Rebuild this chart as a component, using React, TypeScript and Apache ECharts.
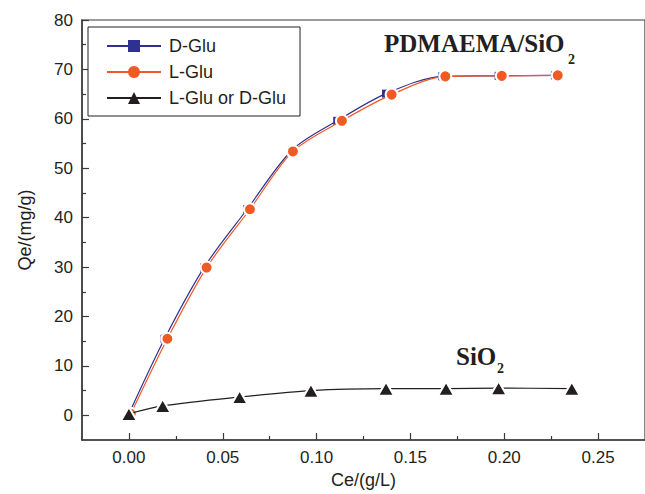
import React, { useEffect, useRef } from "react";
import * as echarts from "echarts";

const dGluX = [0, 0.019, 0.040, 0.063, 0.087, 0.111, 0.137, 0.167, 0.197, 0.227];
const dGluY = [0.3, 15.5, 29.9, 41.7, 53.7, 59.6, 65.1, 68.6, 68.7, 68.8];
const lGluX = [0.001, 0.0205, 0.0414, 0.0645, 0.0874, 0.1135, 0.140, 0.1686, 0.1987, 0.2285];
const lGluY = [0.3, 15.5, 29.9, 41.7, 53.4, 59.6, 64.9, 68.6, 68.7, 68.8];
const sio2X = [0, 0.018, 0.059, 0.097, 0.137, 0.169, 0.197, 0.236];
const sio2Y = [0.3, 1.9, 3.7, 5.0, 5.4, 5.4, 5.5, 5.4];

const xMajor = [0, 0.05, 0.1, 0.15, 0.2, 0.25];
const xMinor = [0.025, 0.075, 0.125, 0.175, 0.225];
const yMajor = [0, 10, 20, 30, 40, 50, 60, 70, 80];
const yMinor = [5, 15, 25, 35, 45, 55, 65, 75];

const seriesNames = ["D-Glu", "L-Glu", "L-Glu or D-Glu"];

const FONT = "'Liberation Sans', Arial, sans-serif";
const SERIF = "'Liberation Serif', 'Times New Roman', serif";
const AXIS = "#3a3a3a";

const zip = (xs: number[], ys: number[]) => xs.map((x, i) => [x, ys[i]]);

export default function App() {
  const ref = useRef<HTMLDivElement>(null);
  useEffect(() => {
    if (!ref.current) return;
    const chart = echarts.init(ref.current, undefined, { renderer: "svg" });
    const tickCommon = { inside: true, lineStyle: { color: AXIS, width: 1.2 } };
    chart.setOption({
      animation: false,
      backgroundColor: "#fff",
      grid: {
        left: 82, top: 20, width: 565, height: 420,
        show: true, borderColor: AXIS, borderWidth: 1.2,
      },
      legend: {
        data: seriesNames,
        orient: "vertical",
        left: 88, top: 27,
        padding: [10, 14, 9, 18],
        itemWidth: 54, itemHeight: 15, itemGap: 8,
        itemStyle: { borderWidth: 0 },
        borderColor: "#231f20", borderWidth: 1,
        backgroundColor: "#fff",
        textStyle: { fontFamily: FONT, fontSize: 18, color: "#231f20", lineHeight: 18, padding: [0, 0, 0, 3] },
      },
      xAxis: [
        {
          type: "value", min: -0.025, max: 0.275,
          name: "Ce/(g/L)", nameLocation: "middle", nameGap: 23,
          nameTextStyle: { fontFamily: FONT, fontSize: 18, color: "#231f20" },
          axisLine: { onZero: false, lineStyle: { color: AXIS, width: 1.5 } },
          axisTick: { ...tickCommon, length: 7, customValues: xMajor },
          axisLabel: { customValues: xMajor, fontFamily: FONT, fontSize: 17, color: "#231f20", margin: 9,
            formatter: (v: number) => v.toFixed(2) },
          splitLine: { show: false },
        },
        {
          type: "value", min: -0.025, max: 0.275, position: "bottom",
          axisLine: { show: false, onZero: false },
          axisTick: { ...tickCommon, length: 4, customValues: xMinor },
          axisLabel: { show: false },
          splitLine: { show: false },
        },
      ],
      yAxis: [
        {
          type: "value", min: -5, max: 80,
          name: "Qe/(mg/g)", nameLocation: "middle", nameGap: 48,
          nameTextStyle: { fontFamily: FONT, fontSize: 18, color: "#231f20" },
          axisLine: { onZero: false, lineStyle: { color: AXIS, width: 1.5 } },
          axisTick: { ...tickCommon, length: 7, customValues: yMajor },
          axisLabel: { customValues: yMajor, fontFamily: FONT, fontSize: 17, color: "#231f20", margin: 9 },
          splitLine: { show: false },
        },
        {
          type: "value", min: -5, max: 80, position: "left",
          axisLine: { show: false, onZero: false },
          axisTick: { ...tickCommon, length: 4, customValues: yMinor },
          axisLabel: { show: false },
          splitLine: { show: false },
        },
      ],
      series: [
        {
          name: seriesNames[0], type: "line", data: zip(dGluX, dGluY), smooth: 0.3,
          symbol: "rect", symbolSize: 8,
          lineStyle: { color: "#2e3192", width: 1.2 },
          itemStyle: { color: "#2e3192" },
          z: 2,
        },
        {
          name: seriesNames[1], type: "line", data: zip(lGluX, lGluY), smooth: 0.3,
          symbol: "circle", symbolSize: 12,
          lineStyle: { color: "#f15a24", width: 1.2 },
          itemStyle: { color: "#f15a24", borderColor: "#fff", borderWidth: 2 },
          z: 3,
        },
        {
          name: seriesNames[2], type: "line", data: zip(sio2X, sio2Y), smooth: 0.3,
          symbol: "triangle", symbolSize: [16, 14],
          lineStyle: { color: "#231f20", width: 1.2 },
          itemStyle: { color: "#231f20", borderColor: "#fff", borderWidth: 2 },
          z: 4,
        },
      ],
      graphic: [
        { type: "text", x: 384, y: 43, style: { text: "PDMAEMA/SiO", font: `bold 25px ${SERIF}`, fill: "#231f20", verticalAlign: "middle", align: "left" } },
        { type: "text", x: 568, y: 59, style: { text: "2", font: `bold 14px ${SERIF}`, fill: "#231f20", verticalAlign: "middle", align: "left" } },
        { type: "text", x: 456, y: 356, style: { text: "SiO", font: `bold 25px ${SERIF}`, fill: "#231f20", verticalAlign: "middle", align: "left" } },
        { type: "text", x: 497, y: 368, style: { text: "2", font: `bold 14px ${SERIF}`, fill: "#231f20", verticalAlign: "middle", align: "left" } },
      ],
    });
    return () => chart.dispose();
  }, []);
  return <div ref={ref} style={{ position: "fixed", left: 0, top: 0, width: 645, height: 494 }} />;
}
